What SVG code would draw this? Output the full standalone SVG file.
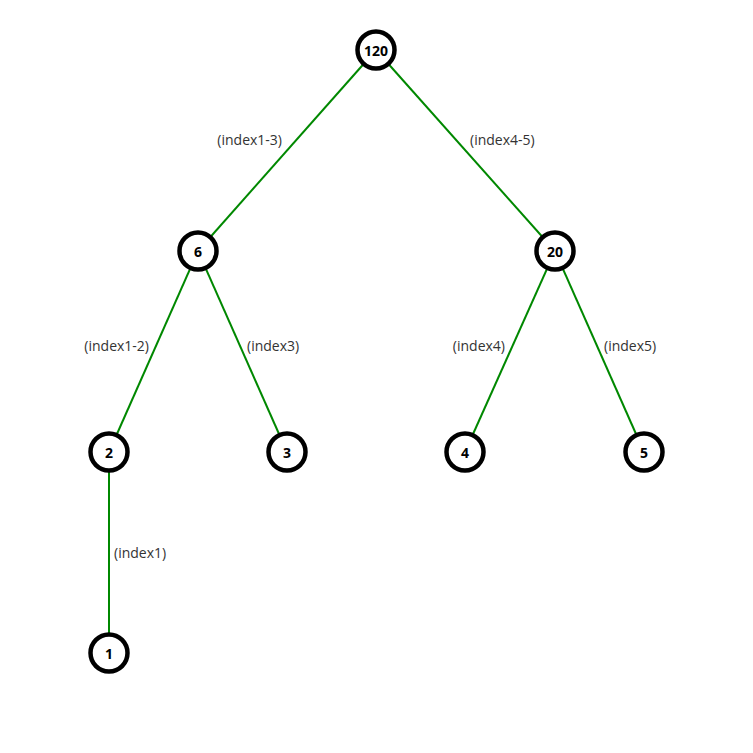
<svg xmlns="http://www.w3.org/2000/svg" width="753" height="753" viewBox="0 0 753 753">
<style>
.edge{stroke:#008800;stroke-width:2;fill:none}
.node circle{fill:#fff;stroke:#000;stroke-width:4.5}
.node text{font-family:"Open Sans","Liberation Sans",sans-serif;font-size:14px;font-weight:bold;fill:#000;text-anchor:middle;dominant-baseline:central}
.lbl{font-family:"Open Sans","Liberation Sans",sans-serif;font-size:14px;fill:#333;dominant-baseline:central}
</style>
<rect width="753" height="753" fill="#fff"/>
<g id="connectors">
<line class="edge" x1="376" y1="50" x2="198" y2="251"/>
<line class="edge" x1="376" y1="50" x2="555" y2="251"/>
<line class="edge" x1="198" y1="251" x2="109" y2="452"/>
<line class="edge" x1="198" y1="251" x2="287" y2="452"/>
<line class="edge" x1="555" y1="251" x2="465" y2="452"/>
<line class="edge" x1="555" y1="251" x2="644" y2="452"/>
<line class="edge" x1="109" y1="452" x2="109" y2="653"/>
<text class="lbl" x="282" y="139" text-anchor="end">(index1-3)</text>
<text class="lbl" x="470" y="139">(index4-5)</text>
<text class="lbl" x="149" y="345" text-anchor="end">(index1-2)</text>
<text class="lbl" x="247" y="345">(index3)</text>
<text class="lbl" x="505" y="345" text-anchor="end">(index4)</text>
<text class="lbl" x="604" y="345">(index5)</text>
<text class="lbl" x="114" y="552">(index1)</text>
</g>
<g id="n120" class="node"><circle cx="376" cy="50" r="18.5"/><text x="376" y="50">120</text></g>
<g id="n6" class="node"><circle cx="198" cy="251" r="18.5"/><text x="198" y="251">6</text></g>
<g id="n20" class="node"><circle cx="555" cy="251" r="18.5"/><text x="555" y="251">20</text></g>
<g id="n2" class="node"><circle cx="109" cy="452" r="18.5"/><text x="109" y="452">2</text></g>
<g id="n3" class="node"><circle cx="287" cy="452" r="18.5"/><text x="287" y="452">3</text></g>
<g id="n4" class="node"><circle cx="465" cy="452" r="18.5"/><text x="465" y="452">4</text></g>
<g id="n5" class="node"><circle cx="644" cy="452" r="18.5"/><text x="644" y="452">5</text></g>
<g id="n1" class="node"><circle cx="109" cy="653" r="18.5"/><text x="109" y="653">1</text></g>
</svg>
